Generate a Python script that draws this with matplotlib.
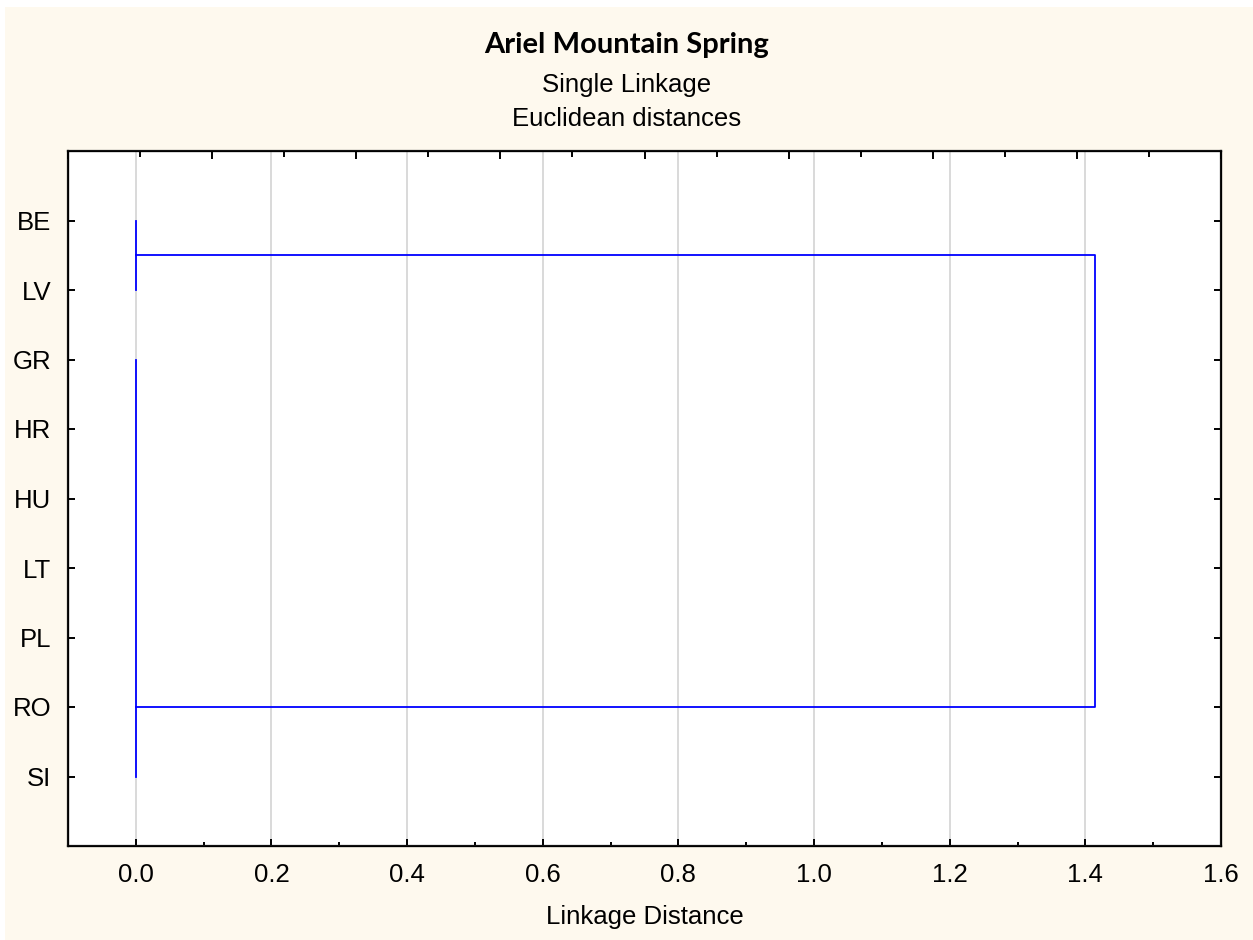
import matplotlib
matplotlib.use("Agg")
import matplotlib.pyplot as plt
from matplotlib.patches import Rectangle
from matplotlib.ticker import MultipleLocator

# leaves in tree order (top to bottom)
leaves = ["BE", "LV", "GR", "HR", "HU", "LT", "PL", "RO", "SI"]

# two clusters, their internal linkage distance and the leaf where the join line leaves
cluster_a = ["BE", "LV"]
cluster_b = ["GR", "HR", "HU", "LT", "PL", "RO", "SI"]
height_a = 0.0
height_b = 0.0
anchor_b = "RO"
final_height = 1.4142

blue = "#0000FF"
plt.rcParams["font.family"] = ["Liberation Sans", "DejaVu Sans"]

fig = plt.figure(figsize=(12.53, 9.40), dpi=100)
fig.patch.set_facecolor("white")
fig.patches.append(Rectangle((5 / 1253, -0.01), 1.1, 1.01 - 7 / 940, transform=fig.transFigure,
                             facecolor="#FEF9EE", edgecolor="none", zorder=-10))

ax = fig.add_axes([68 / 1253, 1 - 846 / 940, (1221 - 68) / 1253, (846 - 151) / 940])
ax.set_facecolor("white")

pos = {name: i + 1 for i, name in enumerate(leaves)}

# vertical lines inside each cluster
ya = [pos[n] for n in cluster_a]
yb = [pos[n] for n in cluster_b]
ax.plot([height_a, height_a], [min(ya), max(ya)], color=blue, lw=1.3)
ax.plot([height_b, height_b], [min(yb), max(yb)], color=blue, lw=1.3)

# join lines
ja = sum(ya) / len(ya)
jb = pos[anchor_b]
ax.plot([height_a, final_height, final_height, height_b], [ja, ja, jb, jb], color=blue, lw=1.3)

ax.set_xlim(-0.1, 1.6)
ax.set_ylim(len(leaves) + 1, 0)
ax.set_yticks(range(1, len(leaves) + 1))
ax.set_yticklabels(leaves)
ax.xaxis.set_major_locator(MultipleLocator(0.2))
ax.xaxis.set_minor_locator(MultipleLocator(0.1))
ax.xaxis.set_major_formatter(matplotlib.ticker.FormatStrFormatter("%.1f"))

ax.grid(axis="x", which="major", color="#D3D3D3", lw=1.2)
ax.set_axisbelow(True)
for s in ax.spines.values():
    s.set_linewidth(1.6)
    s.set_color("#111111")

ax.tick_params(axis="x", which="major", direction="in", length=5, width=1.4, labelsize=18.5, pad=12, top=False)
ax.tick_params(axis="x", which="minor", direction="in", length=3, width=1.4, top=False)
ax.tick_params(axis="y", direction="in", length=5, width=1.4, labelsize=18.5, pad=12, right=True)

# top axis has its own scale in the original
top = ax.twiny()
top.set_xlim(0, 1.6)
top.xaxis.set_major_locator(MultipleLocator(0.2))
top.xaxis.set_minor_locator(MultipleLocator(0.1))
top.tick_params(axis="x", which="major", direction="in", length=6, width=1.4, labeltop=False)
top.tick_params(axis="x", which="minor", direction="in", length=4, width=1.4)

ax.set_xlabel("Linkage Distance", fontsize=18.5, labelpad=13)

fig.text(0.5, 1 - 53 / 940, "Ariel Mountain Spring", ha="center", va="baseline",
         fontsize=21, fontweight="bold", family=["Lato", "DejaVu Sans"])
fig.text(0.5, 1 - 92 / 940, "Single Linkage", ha="center", va="baseline", fontsize=18.5)
fig.text(0.5, 1 - 126 / 940, "Euclidean distances", ha="center", va="baseline", fontsize=18.5)

fig.savefig("out.png", dpi=100)
